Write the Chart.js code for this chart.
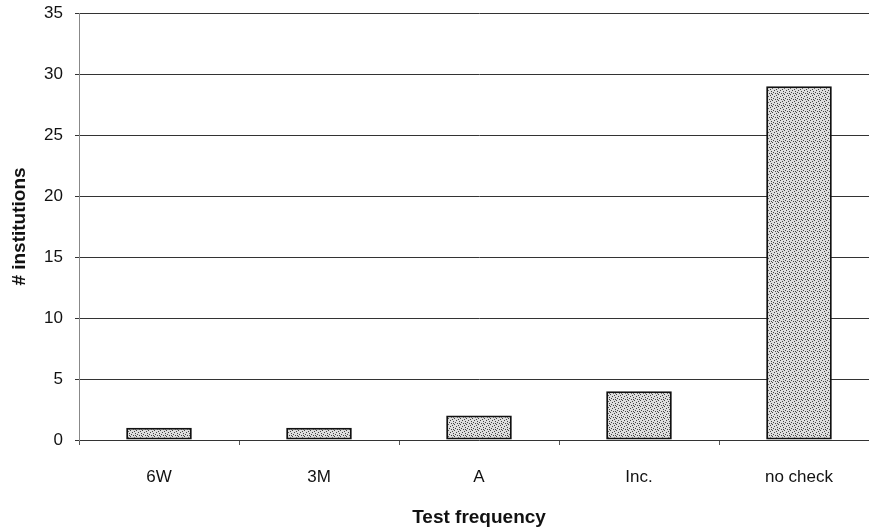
<!DOCTYPE html>
<html>
<head>
<meta charset="utf-8">
<script src="https://cdn.jsdelivr.net/npm/chart.js@4"></script>
<style>
  html, body { margin: 0; padding: 0; background: #fff; overflow: hidden; }
  #wrap { width: 880px; height: 531px; }
</style>
</head>
<body>
<div id="wrap"><canvas id="freqChart" width="880" height="531"></canvas></div>
<script>
  var categories = ["6W", "3M", "A", "Inc.", "no check"];
  var institutions = [1, 1, 2, 4, 29];
  var yTicks = [0, 5, 10, 15, 20, 25, 30, 35];

  // stippled grey fill, like the scanned original
  function stipple() {
    var c = document.createElement("canvas");
    c.width = 6; c.height = 6;
    var g = c.getContext("2d");
    g.fillStyle = "#dedede";
    g.fillRect(0, 0, 6, 6);
    g.fillStyle = "#444";
    [[0,0],[3,1],[1,3],[4,4],[2,5],[5,2],[3,3]].forEach(function(p){ g.fillRect(p[0], p[1], 1, 1); });
    return g.createPattern(c, "repeat");
  }

  var ctx = document.getElementById("freqChart");
  var freqChart = new Chart(ctx, {
    type: 'bar',
    data: {
      labels: categories,
      datasets: [{
        data: institutions,
        backgroundColor: stipple(),
        borderColor: '#111',
        borderWidth: 2,
        borderSkipped: false,
        barPercentage: 0.82,
        categoryPercentage: 0.5
      }]
    },
    options: {
      responsive: false,
      animation: false,
      layout: { padding: { top: 13, right: 1, left: 0, bottom: 0 } },
      plugins: { legend: { display: false }, tooltip: { enabled: false } },
      scales: {
        x: {
          afterFit: function(s) { s.height = 91; },
          grid: { drawOnChartArea: false, drawTicks: true, tickLength: 5, color: '#555', offset: true },
          border: { display: false },
          ticks: { color: '#111', padding: 22, font: { family: 'Liberation Sans', size: 17 } },
          title: { display: true, text: 'Test frequency', color: '#111', padding: { top: 4, bottom: 2 },
                   font: { family: 'Liberation Sans', size: 19, weight: 'bold' } }
        },
        y: {
          min: 0, max: 35,
          afterFit: function(s) { s.width = 79; s.paddingTop = 0; },
          afterBuildTicks: function(s) { s.ticks = yTicks.map(function(v){ return { value: v }; }); },
          grid: { color: '#333', lineWidth: 1, tickLength: 4 },
          border: { color: '#888' },
          ticks: { color: '#111', padding: 12, font: { family: 'Liberation Sans', size: 17 } },
          title: { display: true, text: '# institutions', color: '#111', padding: { top: 8, bottom: 4 },
                   font: { family: 'Liberation Sans', size: 19, weight: 'bold' } }
        }
      }
    }
  });
</script>
</body>
</html>
